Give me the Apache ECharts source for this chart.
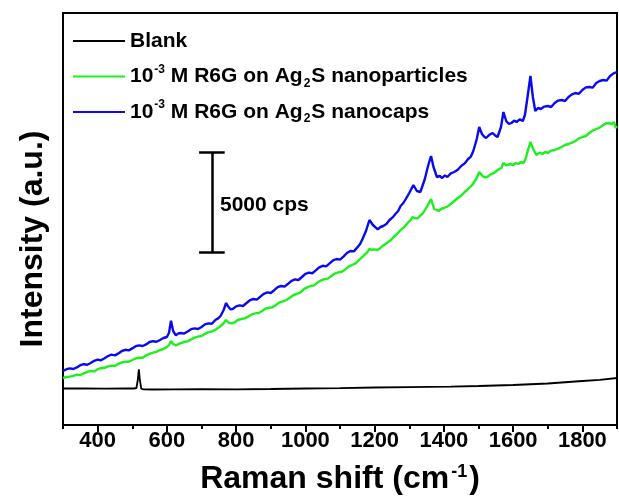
<!DOCTYPE html>
<html>
<head>
<meta charset="utf-8">
<script src="https://cdn.jsdelivr.net/npm/echarts/dist/echarts.min.js"></script>
<style>
  html, body { margin: 0; padding: 0; background: #fff; }
  #chart { width: 619px; height: 502px; }
</style>
</head>
<body>
<div id="chart"></div>
<script>
// Raman shift (cm-1) and intensity (cps)
var blankShift = [300, 360, 420, 480, 505, 512, 516, 519, 522, 526, 532, 560, 620, 700, 800, 900, 1000, 1100, 1200, 1300, 1420, 1500, 1600, 1700, 1800, 1850, 1900]
var blankCounts = [1825, 1830, 1820, 1830, 1825, 1850, 2250, 2780, 2250, 1820, 1780, 1775, 1780, 1790, 1785, 1800, 1825, 1845, 1875, 1895, 1915, 1950, 2000, 2075, 2200, 2260, 2350]

var npShift = [300, 310, 320, 330, 340, 350, 360, 370, 380, 390, 400, 410, 420, 430, 440, 450, 460, 470, 480, 490,
  500, 510, 520, 530, 540, 550, 560, 570, 580, 590, 600, 606, 612, 618, 626, 638, 650, 660, 670, 680,
  690, 700, 710, 720, 730, 740, 750, 762, 771, 780, 788, 795, 805, 815, 825, 835, 845, 855, 865, 875,
  885, 895, 905, 915, 925, 935, 945, 955, 965, 975, 985, 995, 1005, 1015, 1025, 1035, 1045, 1055, 1065, 1075,
  1085, 1095, 1105, 1115, 1125, 1135, 1145, 1155, 1163, 1170, 1178, 1185, 1193, 1200, 1208, 1215, 1225, 1235, 1245, 1255,
  1265, 1275, 1285, 1295, 1303, 1310, 1318, 1325, 1332, 1340, 1352, 1363, 1372, 1379, 1385, 1392, 1400, 1410, 1420, 1430,
  1440, 1450, 1460, 1470, 1482, 1495, 1502, 1512, 1518, 1525, 1535, 1545, 1552, 1560, 1566, 1572, 1580, 1585, 1592, 1600,
  1608, 1615, 1622, 1630, 1636, 1642, 1650, 1658, 1667, 1676, 1685, 1692, 1700, 1710, 1720, 1730, 1740, 1750, 1760, 1770,
  1780, 1790, 1800, 1810, 1820, 1830, 1840, 1850, 1860, 1868, 1875, 1885, 1891, 1897, 1900]
var npCounts = [2350, 2400, 2420, 2460, 2520, 2500, 2580, 2660, 2700, 2680, 2790, 2840, 2860, 2930, 2970, 2950, 3060, 3130, 3170, 3160,
  3250, 3330, 3370, 3360, 3480, 3560, 3620, 3660, 3750, 3800, 3900, 4000, 4200, 4050, 3980, 4080, 4150, 4180, 4280, 4370,
  4420, 4450, 4560, 4640, 4680, 4760, 4880, 5050, 5250, 5100, 5080, 5130, 5250, 5300, 5330, 5420, 5530, 5580, 5600, 5700,
  5820, 5860, 5890, 6000, 6130, 6180, 6250, 6360, 6490, 6560, 6620, 6780, 6880, 6950, 6980, 7120, 7230, 7290, 7320, 7450,
  7570, 7630, 7660, 7780, 7920, 8000, 8080, 8250, 8380, 8500, 8620, 8800, 8760, 8780, 8750, 8830, 8980, 9100, 9220, 9400,
  9560, 9750, 9880, 10100, 10230, 10400, 10330, 10350, 10470, 10600, 10950, 11300, 10800, 10750, 10700, 10800, 10850, 10920, 11050, 11200,
  11350, 11470, 11650, 11800, 12000, 12350, 12650, 12450, 12380, 12400, 12530, 12600, 12700, 12800, 12850, 13100, 12980, 12950, 13050, 13000,
  13100, 13050, 13150, 13100, 13300, 13700, 14150, 13800, 13500, 13620, 13550, 13650, 13600, 13720, 13750, 13820, 13900, 14000, 14050, 14120,
  14200, 14330, 14400, 14450, 14600, 14720, 14800, 14870, 15000, 15080, 15100, 15050, 15150, 14850, 14950]

var capsShift = [300, 310, 320, 330, 340, 350, 360, 370, 380, 390, 400, 410, 420, 430, 440, 450, 460, 470, 480, 490,
  500, 510, 520, 530, 540, 550, 560, 570, 580, 590, 600, 606, 612, 618, 626, 633, 640, 650, 660, 670,
  680, 690, 700, 710, 720, 730, 740, 748, 755, 764, 771, 778, 784, 790, 800, 810, 820, 830, 840, 850,
  860, 870, 880, 890, 900, 910, 920, 930, 940, 950, 960, 970, 980, 990, 1000, 1010, 1020, 1030, 1040, 1050,
  1060, 1070, 1080, 1090, 1100, 1110, 1120, 1130, 1140, 1150, 1158, 1165, 1175, 1185, 1195, 1209, 1217, 1225, 1234, 1243,
  1252, 1260, 1268, 1275, 1283, 1290, 1300, 1312, 1322, 1332, 1345, 1355, 1363, 1370, 1380, 1388, 1395, 1403, 1410, 1420,
  1430, 1440, 1450, 1460, 1470, 1478, 1485, 1495, 1502, 1510, 1516, 1522, 1532, 1541, 1548, 1555, 1565, 1572, 1580, 1588,
  1595, 1603, 1610, 1619, 1628, 1634, 1640, 1650, 1657, 1664, 1672, 1680, 1690, 1700, 1710, 1720, 1730, 1740, 1750, 1760,
  1770, 1780, 1790, 1800, 1810, 1820, 1830, 1840, 1850, 1860, 1870, 1880, 1890, 1900]
var capsCounts = [2700, 2790, 2830, 2800, 2880, 2990, 3040, 3010, 3100, 3210, 3270, 3240, 3340, 3450, 3520, 3480, 3580, 3700, 3760, 3730,
  3830, 3940, 3980, 3950, 4030, 4150, 4190, 4160, 4250, 4350, 4400, 4600, 5215, 4700, 4480, 4580, 4600, 4570, 4680, 4790,
  4830, 4800, 4900, 5030, 5080, 5060, 5250, 5330, 5450, 5750, 6100, 5900, 5780, 5800, 5930, 5980, 5950, 6100, 6240, 6300,
  6270, 6420, 6560, 6630, 6600, 6740, 6890, 6950, 6920, 7060, 7210, 7280, 7250, 7400, 7560, 7620, 7590, 7730, 7880, 7960,
  7930, 8080, 8230, 8300, 8270, 8420, 8600, 8700, 8680, 8880, 9050, 9300, 9700, 10250, 10000, 9780, 9900, 9950, 10050, 10250,
  10380, 10550, 10700, 10950, 11100, 11300, 11600, 12000, 11700, 11650, 12300, 13000, 13450, 12900, 12400, 12450, 12350, 12480, 12400, 12580,
  12650, 12760, 12950, 13080, 13300, 13420, 13700, 14300, 14900, 14550, 14420, 14350, 14520, 14600, 14480, 14400, 14900, 15650, 15200, 15050,
  15100, 15220, 15150, 15280, 15200, 15500, 16200, 17450, 16400, 15700, 15850, 15800, 15920, 15950, 15900, 16100, 16220, 16250, 16200, 16400,
  16530, 16600, 16560, 16750, 16880, 16900, 16870, 17100, 17200, 17250, 17220, 17450, 17580, 17650]

var majorTicks = [400, 600, 800, 1000, 1200, 1400, 1600, 1800]
var minorTicks = [300, 500, 700, 900, 1100, 1300, 1500, 1700, 1900]

// 5000 cps scale bar
var scaleBarShift = 730
var scaleBarBase = 8650
var scaleBarSpan = 5000
var scaleBarCap = 37

function zip(xs, ys) {
  return xs.map(function (x, i) { return [x, ys[i]] })
}

var legendText = {
  'Blank': 'Blank',
  '10-3 M R6G on Ag2S nanoparticles': '10{sup|-3} M R6G on Ag{sub|2}S nanoparticles',
  '10-3 M R6G on Ag2S nanocaps': '10{sup|-3} M R6G on Ag{sub|2}S nanocaps'
}

var font = 'Arial, "Liberation Sans", sans-serif'
var myChart = echarts.init(document.getElementById('chart'))

var scaleBarTop = scaleBarBase + scaleBarSpan
var option = {
  animation: false,
  backgroundColor: '#fff',
  textStyle: { fontFamily: font },
  grid: { left: 63, right: 2, top: 13, bottom: 77, show: true, borderColor: '#000', borderWidth: 2 },
  legend: {
    data: ['Blank', '10-3 M R6G on Ag2S nanoparticles', '10-3 M R6G on Ag2S nanocaps'],
    orient: 'vertical',
    left: 68,
    top: 23,
    itemGap: 9.5,
    itemWidth: 52,
    itemHeight: 2,
    icon: 'rect',
    formatter: function (name) { return legendText[name] },
    textStyle: {
      fontFamily: font, fontSize: 21, fontWeight: 'bold', color: '#000', lineHeight: 26,
      rich: {
        sup: { fontSize: 12, fontWeight: 'bold', fontFamily: font, color: '#000', verticalAlign: 'top', lineHeight: 26, padding: [0, 0, 8, 1] },
        sub: { fontSize: 12, fontWeight: 'bold', fontFamily: font, color: '#000', verticalAlign: 'bottom', lineHeight: 26, padding: [8, 1, 0, 1] }
      }
    }
  },
  xAxis: [{
    type: 'value',
    min: 300,
    max: 1900,
    name: '{a|Raman shift (cm}{s|-1}{a|)}',
    nameLocation: 'middle',
    nameGap: 38,
    nameTextStyle: {
      rich: {
        a: { fontSize: 32, fontWeight: 'bold', fontFamily: font, color: '#000' },
        s: { fontSize: 18, fontWeight: 'bold', fontFamily: font, color: '#000', verticalAlign: 'top', padding: [0, 2, 14, 2] }
      }
    },
    axisLine: { lineStyle: { color: '#000', width: 2 } },
    axisTick: { show: true, length: 7, customValues: majorTicks, lineStyle: { color: '#000', width: 2 } },
    axisLabel: {
      customValues: majorTicks, margin: 5, fontSize: 22, fontWeight: 'bold', color: '#000', fontFamily: font,
      formatter: function (v) { return String(v) }
    },
    splitLine: { show: false }
  }, {
    type: 'value',
    min: 300,
    max: 1900,
    position: 'bottom',
    axisLine: { show: false },
    axisTick: { show: true, length: 4, customValues: minorTicks, lineStyle: { color: '#000', width: 2 } },
    axisLabel: { show: false },
    splitLine: { show: false }
  }],
  yAxis: {
    type: 'value',
    min: 0,
    max: 20600,
    name: 'Intensity (a.u.)',
    nameLocation: 'middle',
    nameGap: 14,
    nameTextStyle: { fontSize: 32, fontWeight: 'bold', color: '#000', fontFamily: font, padding: [0, 40, 0, 0] },
    axisLine: { lineStyle: { color: '#000', width: 2 } },
    axisTick: { show: false },
    axisLabel: { show: false },
    splitLine: { show: false }
  },
  graphic: [{
    type: 'text',
    left: 220,
    top: 195,
    style: { text: '5000 cps', font: 'bold 21px ' + font, fill: '#000' }
  }],
  series: [{
    name: 'Blank',
    type: 'line',
    data: zip(blankShift, blankCounts),
    symbol: 'none',
    color: '#000',
    lineStyle: { color: '#000', width: 1.8 },
    z: 3
  }, {
    name: '10-3 M R6G on Ag2S nanoparticles',
    type: 'line',
    data: zip(npShift, npCounts),
    symbol: 'none',
    color: '#1ef01e',
    lineStyle: { color: '#1ef01e', width: 2.4 },
    z: 3
  }, {
    name: '10-3 M R6G on Ag2S nanocaps',
    type: 'line',
    data: zip(capsShift, capsCounts),
    symbol: 'none',
    color: '#0a0af0',
    lineStyle: { color: '#0a0af0', width: 2.4 },
    z: 4
  }, {
    name: 'scale bar',
    type: 'line',
    data: [],
    symbol: 'none',
    markLine: {
      silent: true,
      symbol: 'none',
      label: { show: false },
      lineStyle: { color: '#000', width: 2.5, type: 'solid' },
      data: [
        [{ coord: [scaleBarShift, scaleBarBase] }, { coord: [scaleBarShift, scaleBarTop] }],
        [{ coord: [scaleBarShift - scaleBarCap, scaleBarBase] }, { coord: [scaleBarShift + scaleBarCap, scaleBarBase] }],
        [{ coord: [scaleBarShift - scaleBarCap, scaleBarTop] }, { coord: [scaleBarShift + scaleBarCap, scaleBarTop] }]
      ]
    }
  }]
}

myChart.setOption(option)
</script>
</body>
</html>
